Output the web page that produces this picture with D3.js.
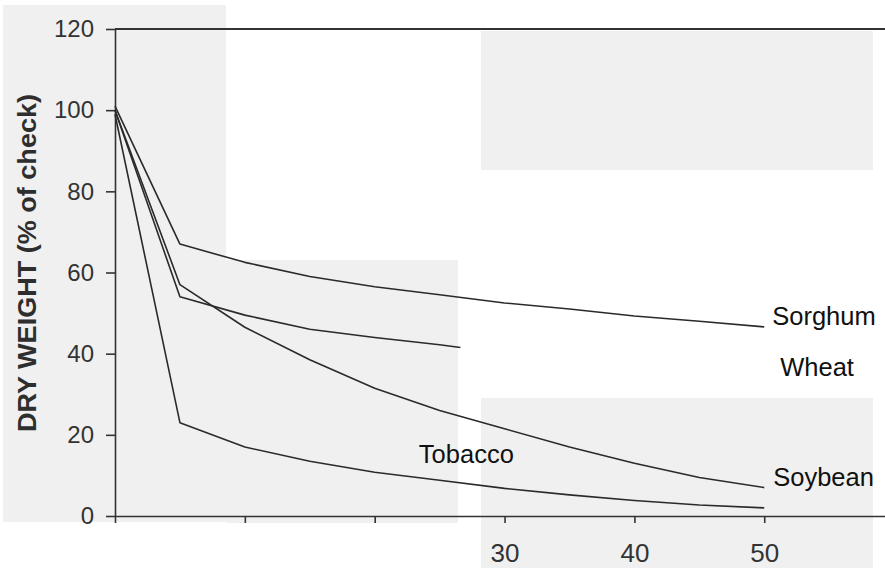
<!DOCTYPE html>
<html lang="en">
<head>
<meta charset="UTF-8">
<title>Dry weight (% of check)</title>
<script src="https://cdn.jsdelivr.net/npm/d3@7/dist/d3.min.js"></script>
<style>
  body { margin: 0; background: #fff; }
  text { font-family: "Liberation Sans", Arial, sans-serif; }
  .axis path, .axis line { stroke: #333; stroke-width: 1.6; }
  .axis text { fill: #333; }
</style>
</head>
<body>
<div id="chart"></div>
<script>
  // days after start
  var days = [0, 5, 10, 15, 20, 25, 30, 35, 40, 45, 50];
  var wheatDays = [0, 5, 10, 15, 20, 25, 26.6];

  // dry weight, % of check
  var sorghum = [101, 67, 62.5, 59, 56.5, 54.5, 52.5, 51, 49.3, 48, 46.6];
  var wheat   = [100, 54, 49.5, 46, 44, 42.2, 41.5];
  var soybean = [100, 57, 46.5, 38.5, 31.5, 26, 21.5, 17, 13, 9.5, 7];
  var tobacco = [99, 23, 17, 13.5, 10.8, 8.8, 6.8, 5.2, 3.8, 2.7, 2];

  var yTicks = [0, 20, 40, 60, 80, 100, 120];
  var xTicks = [0, 10, 20, 30, 40, 50];
  var xTickLabels = ["", "", "", "30", "40", "50"];
  var seriesNames = ["Sorghum", "Wheat", "Soybean", "Tobacco"];

  var w = 885, h = 568;

  var svg = d3.select('#chart').append('svg')
    .attr('width', w)
    .attr('height', h);

  // grey scanned-page patches behind the plot
  var patches = [[3, 5, 223, 517], [226, 260, 232, 263], [481, 31, 392, 139], [481, 398, 392, 170]];
  svg.selectAll('rect.patch').data(patches).enter().append('rect')
    .attr('class', 'patch')
    .attr('x', d => d[0]).attr('y', d => d[1])
    .attr('width', d => d[2]).attr('height', d => d[3])
    .attr('fill', '#f0f0f0');

  var xScale = d3.scaleLinear().domain([0, 59.3]).range([115, 885]);
  var yScale = d3.scaleLinear().domain([0, 120]).range([516, 29]);

  var yAxis = d3.axisLeft(yScale)
    .tickValues(yTicks)
    .tickSize(9)
    .tickSizeOuter(0)
    .tickPadding(12)
    .tickFormat(d3.format('d'));

  var xAxis = d3.axisBottom(xScale)
    .tickValues(xTicks)
    .tickSize(7)
    .tickSizeOuter(0)
    .tickPadding(21)
    .tickFormat((d, i) => xTickLabels[i]);

  svg.append('g')
    .attr('class', 'x axis')
    .attr('transform', 'translate(0,' + yScale(0) + ')')
    .call(xAxis)
    .selectAll('text').attr('font-size', 26);

  svg.append('g')
    .attr('class', 'y axis')
    .attr('transform', 'translate(' + xScale(0) + ',0)')
    .call(yAxis)
    .selectAll('text').attr('font-size', 24);

  // top frame line at 120
  svg.append('line')
    .attr('x1', xScale(0)).attr('x2', w)
    .attr('y1', yScale(120)).attr('y2', yScale(120))
    .attr('stroke', '#333').attr('stroke-width', 1.8);

  var line = d3.line()
    .x(d => xScale(d[0]))
    .y(d => yScale(d[1]));

  var series = [
    d3.zip(days, sorghum),
    d3.zip(wheatDays, wheat),
    d3.zip(days, soybean),
    d3.zip(days, tobacco)
  ];

  svg.selectAll('path.crop').data(series).enter().append('path')
    .attr('class', 'crop')
    .attr('d', line)
    .attr('fill', 'none')
    .attr('stroke', '#2a2a2a')
    .attr('stroke-width', 1.6)
    .attr('stroke-linejoin', 'round');

  // series labels: end labels sit next to the last point
  var lastX = xScale(50);
  var labelPos = [
    [lastX + 8, yScale(sorghum[sorghum.length - 1]) - 2],
    [lastX + 16, yScale(sorghum[sorghum.length - 1]) + 49],
    [lastX + 9, yScale(soybean[soybean.length - 1]) - 2],
    [xScale(23.4), yScale(13.1)]
  ];

  svg.selectAll('text.series').data(seriesNames).enter().append('text')
    .attr('class', 'series')
    .attr('x', (d, i) => labelPos[i][0])
    .attr('y', (d, i) => labelPos[i][1])
    .attr('font-size', 25.5)
    .attr('fill', '#111')
    .text(d => d);

  // y axis title
  svg.append('text')
    .attr('transform', 'translate(36,263) rotate(-90)')
    .attr('text-anchor', 'middle')
    .attr('font-size', 25)
    .attr('font-weight', 'bold')
    .attr('fill', '#2e2e2e')
    .attr('textLength', 338)
    .attr('lengthAdjust', 'spacingAndGlyphs')
    .text('DRY WEIGHT (% of check)');
</script>
</body>
</html>
